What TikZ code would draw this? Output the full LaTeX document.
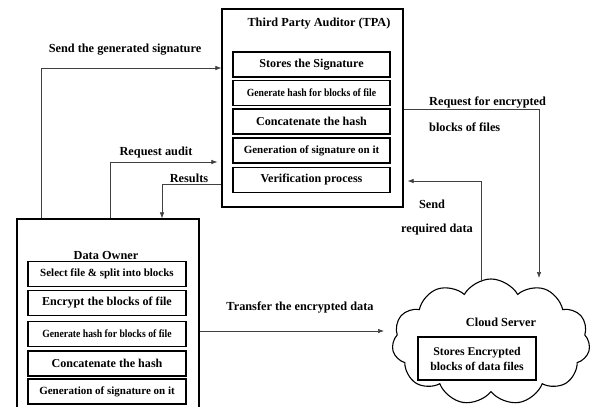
\documentclass[tikz,border=0pt]{standalone}
\usepackage{fontspec}
\usepackage{graphicx}
\setmainfont{Liberation Serif}
\usetikzlibrary{shapes.symbols,arrows.meta}
\newcommand\narrowtxt[1]{\scalebox{0.88}[1]{#1}}

\begin{document}
\begin{tikzpicture}[x=1pt,y=-1pt,
  outer/.style={draw,line width=1.3pt,inner sep=0pt},
  stepbox/.style={draw,line width=1.3pt,inner sep=0pt,minimum height=25pt,font=\bfseries\fontsize{12.1}{13}\selectfont},
  small/.style={font=\bfseries\fontsize{11}{12}\selectfont},
  title/.style={font=\bfseries\fontsize{12.3}{13}\selectfont,inner sep=0pt},
  lbl/.style={font=\bfseries\fontsize{12.3}{13}\selectfont,inner sep=0pt},
  conn/.style={draw=black!75,line width=0.6pt},
  tip/.style={-{Latex[length=6pt,width=4.5pt]}}]
\useasboundingbox (0,0) rectangle (592,407);
\clip (0,0) rectangle (592,407);

% Third Party Auditor
\node[outer,minimum width=181pt,minimum height=198pt] (tpa) at (312.5,108) {};
\node[title] (tpat) at (319,24) {Third Party Auditor (TPA)};
\node[stepbox,minimum width=157pt] (t1) at (311.5,64.5) {Stores the Signature};
\node[stepbox,small,minimum width=157pt] (t2) at (311.5,93) {\narrowtxt{Generate hash for blocks of file}};
\node[stepbox,minimum width=157pt] (t3) at (311.5,121.5) {Concatenate the hash};
\node[stepbox,small,minimum width=157pt] (t4) at (311.5,150.5) {Generation of signature on it};
\node[stepbox,minimum width=157pt] (t5) at (311.5,180) {Verification process};

% Data Owner
\node[outer,minimum width=182pt,minimum height=210pt] (do) at (108,324) {};
\node[title] (dot) at (106,255) {Data Owner};
\node[stepbox,small,minimum width=158pt] (d1) at (107,274) {Select file \& split into blocks};
\node[stepbox,minimum width=158pt] (d2) at (107,303) {Encrypt the blocks of file};
\node[stepbox,small,minimum width=158pt] (d3) at (107,334) {\narrowtxt{Generate hash for blocks of file}};
\node[stepbox,minimum width=158pt] (d4) at (107,363.5) {Concatenate the hash};
\node[stepbox,small,minimum width=158pt] (d5) at (107,391.5) {Generation of signature on it};

% Cloud Server
\node[cloud,draw,line width=1.1pt,cloud puffs=11,cloud puff arc=120,cloud ignores aspect,
      minimum width=198pt,minimum height=126pt] (cloud) at (491,342) {};
\node[lbl] (cst) at (501,322) {Cloud Server};
\node[draw,line width=1.1pt,minimum width=118pt,minimum height=43pt,align=center,
      font=\bfseries\fontsize{11.8}{15}\selectfont,inner sep=0pt] (store) at (477,358.5)
      {Stores Encrypted\\blocks of data files};

% connector corners
\coordinate (s1) at (41,68);
\coordinate (a1) at (110,162);
\coordinate (r1) at (162,184);
\coordinate (q1) at (539,109);
\coordinate (qc) at (539,278);
\coordinate (e1) at (481,181);
\coordinate (ec) at (481,282);
\coordinate (x1) at (199,331);
\coordinate (xc) at (384,331);

\draw[conn,tip] (s1 |- do.north) -- (s1) -- (s1 -| tpa.west);
\draw[conn,tip,shorten >=4pt] (a1 |- do.north) -- (a1) -- (a1 -| tpa.west);
\draw[conn,tip] (r1 -| tpa.west) -- (r1) -- (r1 |- do.north);
\draw[conn,tip] (q1 -| tpa.east) -- (q1) -- (qc);
\draw[conn,tip,shorten >=4pt] (ec) -- (e1) -- (e1 -| tpa.east);
\draw[conn,tip] (x1 -| do.east) -- (xc);

% labels
\node[lbl] (l1) at (125,50) {Send the generated signature};
\node[lbl] (l2) at (156,153) {Request audit};
\node[lbl] (l3) at (189,178) {Results};
\node[lbl,anchor=west] (l4) at (429,102) {Request for encrypted};
\node[lbl,anchor=west] (l5) at (429,127) {blocks of files};
\node[lbl] (l6) at (432,204) {Send};
\node[lbl] (l7) at (437,230) {required data};
\node[lbl] (l8) at (300,307) {Transfer the encrypted data};
\end{tikzpicture}
\end{document}
